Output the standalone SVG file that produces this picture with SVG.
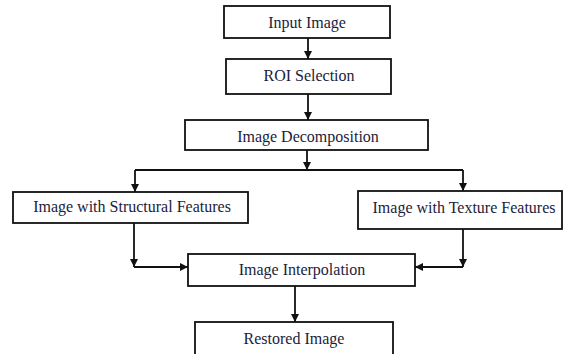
<svg xmlns="http://www.w3.org/2000/svg" width="564" height="354" viewBox="0 0 564 354">
<defs>
<marker id="ah" markerWidth="8" markerHeight="8" refX="8" refY="4" orient="auto" markerUnits="userSpaceOnUse">
<path d="M0,0 L8,4 L0,8 z" fill="#111"/>
</marker>
<style>
.box{fill:#fff;stroke:#111;stroke-width:1.8}
.lbl{font-family:"Liberation Serif","Times New Roman",serif;font-size:16px;fill:#1c1c3a;text-anchor:middle}
.ln{fill:none;stroke:#111;stroke-width:1.8}
.ar{fill:none;stroke:#111;stroke-width:1.8;marker-end:url(#ah)}
</style>
</defs>
<rect width="564" height="354" fill="#fff"/>
<g id="connectors">
<line class="ar" x1="308" y1="38" x2="308" y2="59"/>
<line class="ar" x1="308" y1="94" x2="308" y2="120"/>
<line class="ar" x1="307" y1="150" x2="307" y2="170"/>
<polyline class="ln" points="135,170 463,170"/>
<line class="ar" x1="135" y1="170" x2="135" y2="192"/>
<line class="ar" x1="463" y1="170" x2="463" y2="191"/>
<line class="ar" x1="134" y1="223" x2="134" y2="267"/>
<line class="ar" x1="134" y1="267" x2="188" y2="267"/>
<line class="ar" x1="463" y1="229" x2="463" y2="267"/>
<line class="ar" x1="463" y1="267" x2="415" y2="267"/>
<line class="ar" x1="295" y1="286" x2="295" y2="322"/>
</g>
<g id="input-image">
<rect class="box" x="224" y="6" width="166" height="32"/>
<text class="lbl" x="307" y="28">Input Image</text>
</g>
<g id="roi-selection">
<rect class="box" x="226" y="59" width="165" height="35"/>
<text class="lbl" x="309" y="81">ROI Selection</text>
</g>
<g id="image-decomposition">
<rect class="box" x="185" y="120" width="243" height="30"/>
<text class="lbl" x="308" y="142">Image Decomposition</text>
</g>
<g id="structural-features">
<rect class="box" x="13" y="192" width="235" height="31"/>
<text class="lbl" x="132" y="212">Image with Structural Features</text>
</g>
<g id="texture-features">
<rect class="box" x="358" y="191" width="204" height="38"/>
<text class="lbl" x="464" y="213">Image with Texture Features</text>
</g>
<g id="image-interpolation">
<rect class="box" x="188" y="254" width="227" height="32"/>
<text class="lbl" x="302" y="275">Image Interpolation</text>
</g>
<g id="restored-image">
<rect class="box" x="195" y="322" width="198" height="34"/>
<text class="lbl" x="294" y="344">Restored Image</text>
</g>
</svg>
